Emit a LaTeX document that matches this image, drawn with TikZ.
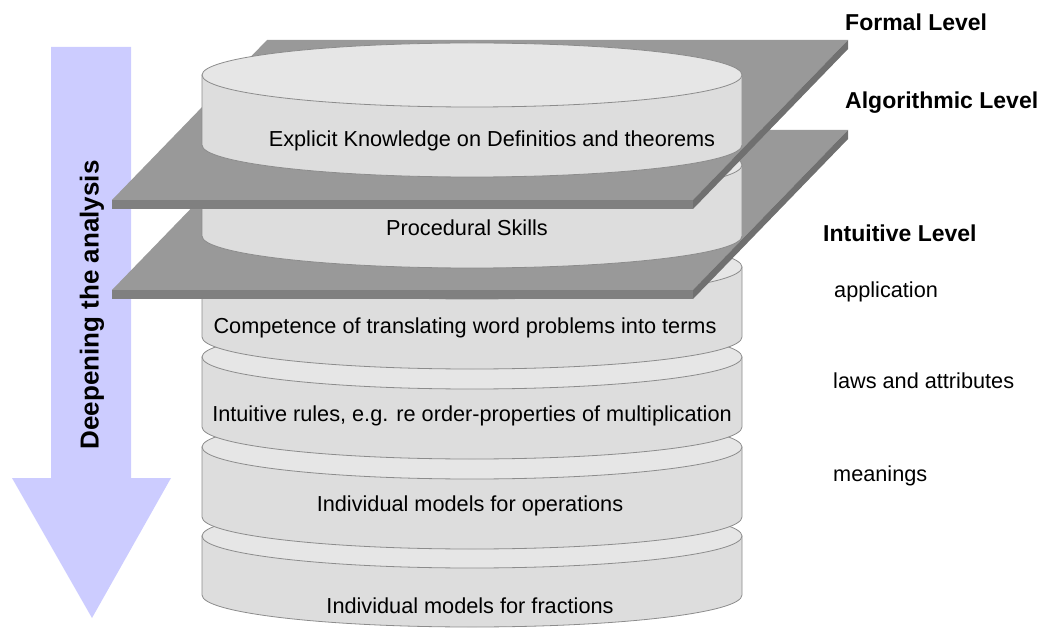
\documentclass[tikz,border=0pt]{standalone}
\usepackage{fontspec}
\setmainfont{Liberation Sans}
\definecolor{cylgray}{HTML}{DDDDDD}
\definecolor{cyltopgray}{HTML}{E6E6E6}
\definecolor{cyledge}{HTML}{8C8C8C}
\definecolor{planetopc}{HTML}{999999}
\definecolor{planefrontc}{HTML}{808080}
\definecolor{planesidec}{HTML}{707070}
\definecolor{arrowc}{HTML}{CCCCFF}
\newcommand\mycyl[2]{%
  \filldraw[cylbody] (202,#1) -- (202,#2) arc[start angle=180,end angle=0,x radius=270,y radius=32] -- (742,#1) -- cycle;
  \filldraw[cyltop] (472,#1) ellipse[x radius=270, y radius=32];
}
\newcommand\myplane[1]{%
  \fill[planetopc] (267,#1) -- (848,#1) -- (693,{#1+160}) -- (112,{#1+160}) -- cycle;
  \fill[planefrontc] (112,{#1+160}) rectangle (693,{#1+169});
  \fill[planesidec] (693,{#1+160}) -- (848,#1) -- (848,{#1+9}) -- (693,{#1+169}) -- cycle;
}
\begin{document}
\begin{tikzpicture}[x=1pt,y=-1pt,
  cylbody/.style={fill=cylgray, draw=cyledge, line width=0.8pt},
  cyltop/.style={fill=cyltopgray, draw=cyledge, line width=0.8pt},
  cyltext/.style={font=\fontsize{21.7}{24}\selectfont, anchor=base, inner sep=0pt},
  lvltext/.style={font=\bfseries\fontsize{23}{26}\selectfont, anchor=base west, inner sep=0pt},
  subtext/.style={font=\fontsize{21.7}{24}\selectfont, anchor=base west, inner sep=0pt}]
\useasboundingbox (0,0) rectangle (1043,628);
% arrow
\fill[arrowc] (51,47) -- (131,47) -- (131,478) -- (171,478) -- (92,618) -- (12,478) -- (51,478) -- cycle;
\node[font=\bfseries\fontsize{26}{30}\selectfont, rotate=90, inner sep=0pt] (ldeep) at (92,305) {Deepening the analysis};
% stack
\mycyl{536}{595}
\mycyl{447}{517}
\mycyl{357}{427}
\mycyl{267}{337}
\myplane{130}
\mycyl{165}{236}
\myplane{40}
\mycyl{75}{145}
% texts
\node[cyltext] (t1) at (492,147) {Explicit Knowledge on Definitios and theorems};
\node[cyltext] (t2) at (467,236) {Procedural Skills};
\node[cyltext] (t3) at (465,333) {Competence of translating word problems into terms};
\node[cyltext] (t4) at (472,421) {Intuitive rules, e.g. re order-properties of multiplication};
\node[cyltext] (t5) at (470,511) {Individual models for operations};
\node[cyltext] (t6) at (470,613) {Individual models for fractions};
\node[lvltext] (lformal) at (845,31) {Formal Level};
\node[lvltext] (lalg) at (845,109) {Algorithmic Level};
\node[lvltext] (lint) at (823,242) {Intuitive Level};
\node[subtext] (lapp) at (834,297) {application};
\node[subtext] (llaws) at (833,388) {laws and attributes};
\node[subtext] (lmean) at (833,481) {meanings};
\end{tikzpicture}
\end{document}
